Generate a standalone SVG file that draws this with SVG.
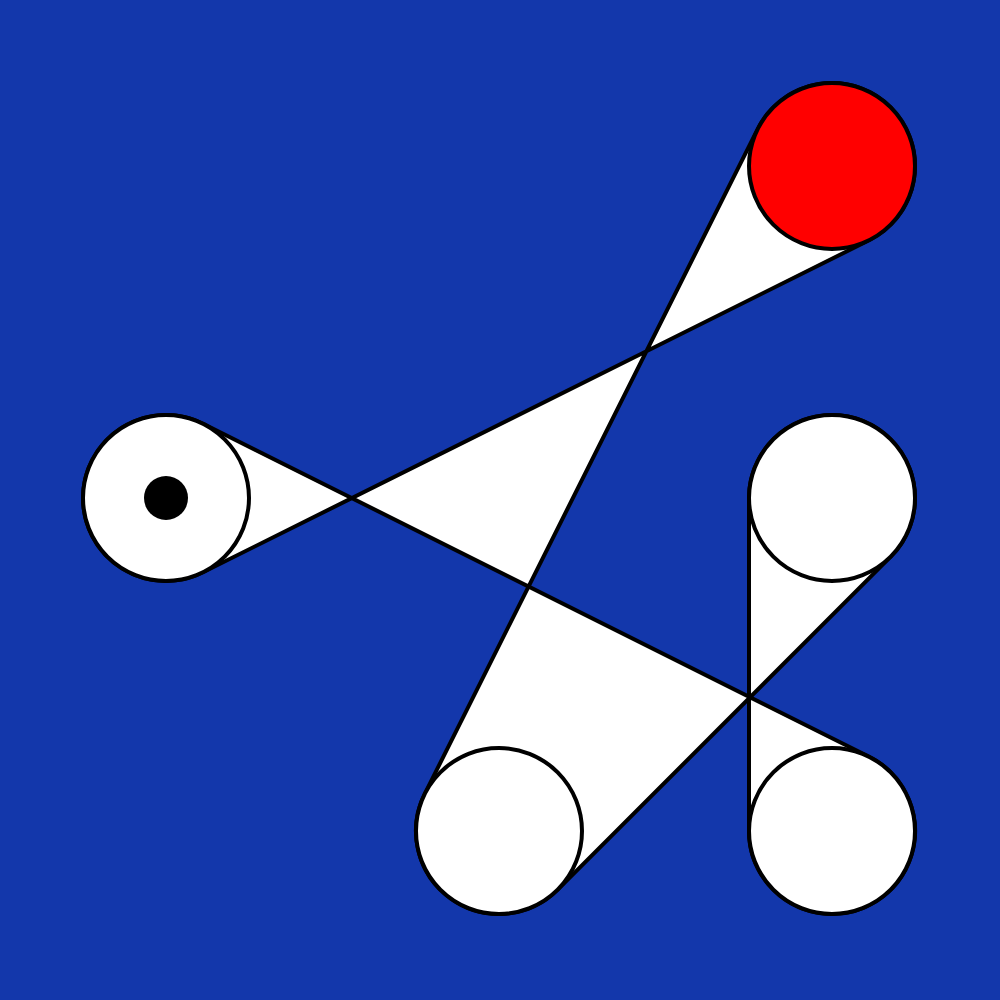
<svg xmlns="http://www.w3.org/2000/svg" width="1000" height="1000" viewBox="0 0 1000 1000">
<style>
.pulley{fill:#ffffff;stroke:#000000;stroke-width:4}
.belt{fill:#ffffff;stroke:#000000;stroke-width:4;stroke-linejoin:round}
</style>
<rect x="0" y="0" width="1000" height="1000" fill="#1337AB"/>
<g id="connectors">
<path class="belt" d="M 757.78 128.84 L 424.78 793.84 A 83 83 0 0 0 557.69 889.69 L 890.69 556.69 A 83 83 0 1 0 749 498 L 749 831 A 83 83 0 1 0 869.12 756.76 L 203.12 423.76 A 83 83 0 1 0 203.03 572.28 L 869.03 240.28 A 83 83 0 1 0 757.78 128.84 Z"/>
</g>
<g id="pulley-red"><circle class="pulley" cx="832" cy="166" r="83" fill="#ff0000" style="fill:#ff0000"/></g>
<g id="pulley-left"><circle class="pulley" cx="166" cy="498" r="83"/><circle cx="166" cy="498" r="22" fill="#000000"/></g>
<g id="pulley-top-right"><circle class="pulley" cx="832" cy="498" r="83"/></g>
<g id="pulley-bottom-middle"><circle class="pulley" cx="499" cy="831" r="83"/></g>
<g id="pulley-bottom-right"><circle class="pulley" cx="832" cy="831" r="83"/></g>
</svg>
